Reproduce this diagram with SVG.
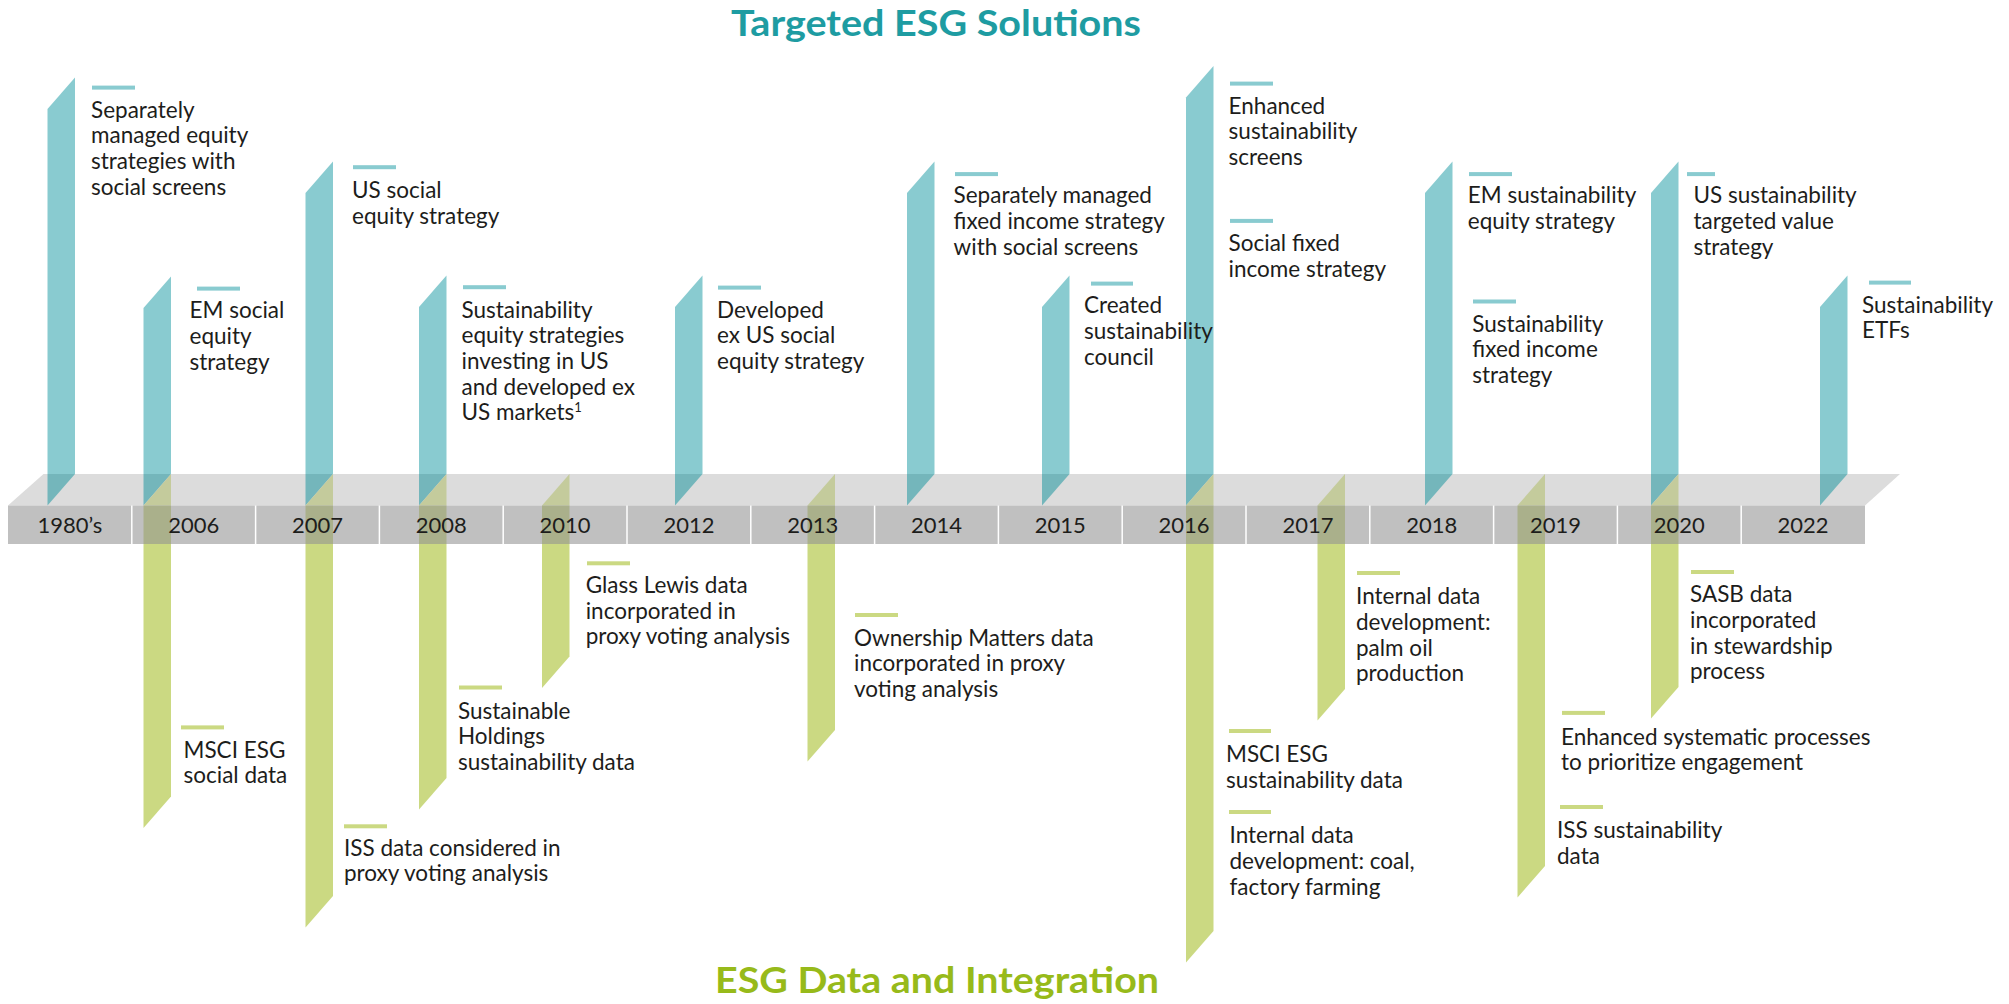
<svg xmlns="http://www.w3.org/2000/svg" width="2009" height="1004" viewBox="0 0 2009 1004">
<style>
.bg{fill:#ffffff}
.band-top{fill:#dcdcdc}
.band{fill:#c0c0c0}
.sep{stroke:#ffffff;stroke-width:1.5}
.teal{fill:#89cbd0}
.teal-d{fill:#74b6bb}
.green{fill:#cbd982}
.green-d1{fill:#c4cb9c}
.green-d2{fill:#aab08b}
.t{font-family:Lato,"Open Sans","Liberation Sans",sans-serif;font-size:22.5px;fill:#1d1d1b}
.yr{font-family:Lato,"Open Sans","Liberation Sans",sans-serif;font-size:22px;fill:#1d1d1b;text-anchor:middle}
.title{font-family:Lato,"Open Sans","Liberation Sans",sans-serif;font-size:36px;font-weight:700}
.ttl-teal{fill:#1e9ca2}
.ttl-green{fill:#97ba1a}
</style>
<rect class="bg" x="0" y="0" width="2009" height="1004"/>

<g id="titles">
<text class="title ttl-teal" x="731" y="36" textLength="410" lengthAdjust="spacingAndGlyphs">Targeted ESG Solutions</text>
<text class="title ttl-green" x="715" y="993" textLength="444" lengthAdjust="spacingAndGlyphs">ESG Data and Integration</text>
</g>

<g id="timeline">
<polygon class="band-top" points="8,505.5 43.5,474 1900,474 1865,505.5"/>
<rect class="band" x="8" y="505.5" width="1857" height="38.5"/>
<g class="sep">
<line x1="131.8" y1="505.5" x2="131.8" y2="544"/>
<line x1="255.6" y1="505.5" x2="255.6" y2="544"/>
<line x1="379.4" y1="505.5" x2="379.4" y2="544"/>
<line x1="503.2" y1="505.5" x2="503.2" y2="544"/>
<line x1="627" y1="505.5" x2="627" y2="544"/>
<line x1="750.8" y1="505.5" x2="750.8" y2="544"/>
<line x1="874.6" y1="505.5" x2="874.6" y2="544"/>
<line x1="998.4" y1="505.5" x2="998.4" y2="544"/>
<line x1="1122.2" y1="505.5" x2="1122.2" y2="544"/>
<line x1="1246" y1="505.5" x2="1246" y2="544"/>
<line x1="1369.8" y1="505.5" x2="1369.8" y2="544"/>
<line x1="1493.6" y1="505.5" x2="1493.6" y2="544"/>
<line x1="1617.4" y1="505.5" x2="1617.4" y2="544"/>
<line x1="1741.2" y1="505.5" x2="1741.2" y2="544"/>
</g>
</g>

<g id="connectors">
<!-- teal ribbons (Targeted ESG Solutions) -->
<polygon class="teal" points="47.5,109 75,77.5 75,474 47.5,474"/>
<polygon class="teal-d" points="47.5,474 75,474 47.5,505.5"/>
<polygon class="teal" points="143.5,308 171,276.5 171,474 143.5,474"/>
<polygon class="teal-d" points="143.5,474 171,474 143.5,505.5"/>
<polygon class="teal" points="305.5,193 333,161.5 333,474 305.5,474"/>
<polygon class="teal-d" points="305.5,474 333,474 305.5,505.5"/>
<polygon class="teal" points="419,307 446.5,275.5 446.5,474 419,474"/>
<polygon class="teal-d" points="419,474 446.5,474 419,505.5"/>
<polygon class="teal" points="675,307 702.5,275.5 702.5,474 675,474"/>
<polygon class="teal-d" points="675,474 702.5,474 675,505.5"/>
<polygon class="teal" points="907,193 934.5,161.5 934.5,474 907,474"/>
<polygon class="teal-d" points="907,474 934.5,474 907,505.5"/>
<polygon class="teal" points="1042,307 1069.5,275.5 1069.5,474 1042,474"/>
<polygon class="teal-d" points="1042,474 1069.5,474 1042,505.5"/>
<polygon class="teal" points="1186,97.5 1213.5,66 1213.5,474 1186,474"/>
<polygon class="teal-d" points="1186,474 1213.5,474 1186,505.5"/>
<polygon class="teal" points="1425,193 1452.5,161.5 1452.5,474 1425,474"/>
<polygon class="teal-d" points="1425,474 1452.5,474 1425,505.5"/>
<polygon class="teal" points="1651,193 1678.5,161.5 1678.5,474 1651,474"/>
<polygon class="teal-d" points="1651,474 1678.5,474 1651,505.5"/>
<polygon class="teal" points="1820,307 1847.5,275.5 1847.5,474 1820,474"/>
<polygon class="teal-d" points="1820,474 1847.5,474 1820,505.5"/>
<!-- green ribbons (ESG Data and Integration) -->
<polygon class="green-d1" points="171,474 171,505.5 143.5,505.5"/>
<rect class="green-d2" x="143.5" y="505.5" width="27.5" height="38.5"/>
<polygon class="green" points="143.5,544 171,544 171,796.5 143.5,828"/>
<polygon class="green-d1" points="333,474 333,505.5 305.5,505.5"/>
<rect class="green-d2" x="305.5" y="505.5" width="27.5" height="38.5"/>
<polygon class="green" points="305.5,544 333,544 333,896 305.5,927.5"/>
<polygon class="green-d1" points="446.5,474 446.5,505.5 419,505.5"/>
<rect class="green-d2" x="419" y="505.5" width="27.5" height="38.5"/>
<polygon class="green" points="419,544 446.5,544 446.5,778 419,809.5"/>
<polygon class="green-d1" points="569.5,474 569.5,505.5 542,505.5"/>
<rect class="green-d2" x="542" y="505.5" width="27.5" height="38.5"/>
<polygon class="green" points="542,544 569.5,544 569.5,656.5 542,688"/>
<polygon class="green-d1" points="835,474 835,505.5 807.5,505.5"/>
<rect class="green-d2" x="807.5" y="505.5" width="27.5" height="38.5"/>
<polygon class="green" points="807.5,544 835,544 835,730 807.5,761.5"/>
<polygon class="green-d1" points="1213.5,474 1213.5,505.5 1186,505.5"/>
<rect class="green-d2" x="1186" y="505.5" width="27.5" height="38.5"/>
<polygon class="green" points="1186,544 1213.5,544 1213.5,931 1186,962.5"/>
<polygon class="green-d1" points="1345,474 1345,505.5 1317.5,505.5"/>
<rect class="green-d2" x="1317.5" y="505.5" width="27.5" height="38.5"/>
<polygon class="green" points="1317.5,544 1345,544 1345,689 1317.5,720.5"/>
<polygon class="green-d1" points="1545,474 1545,505.5 1517.5,505.5"/>
<rect class="green-d2" x="1517.5" y="505.5" width="27.5" height="38.5"/>
<polygon class="green" points="1517.5,544 1545,544 1545,866 1517.5,897.5"/>
<polygon class="green-d1" points="1678.5,474 1678.5,505.5 1651,505.5"/>
<rect class="green-d2" x="1651" y="505.5" width="27.5" height="38.5"/>
<polygon class="green" points="1651,544 1678.5,544 1678.5,687 1651,718.5"/>
</g>

<g id="years">
<text class="yr" x="69.9" y="533">1980’s</text>
<text class="yr" x="193.7" y="533">2006</text>
<text class="yr" x="317.5" y="533">2007</text>
<text class="yr" x="441.3" y="533">2008</text>
<text class="yr" x="565.1" y="533">2010</text>
<text class="yr" x="688.9" y="533">2012</text>
<text class="yr" x="812.7" y="533">2013</text>
<text class="yr" x="936.5" y="533">2014</text>
<text class="yr" x="1060.3" y="533">2015</text>
<text class="yr" x="1184.1" y="533">2016</text>
<text class="yr" x="1307.9" y="533">2017</text>
<text class="yr" x="1431.7" y="533">2018</text>
<text class="yr" x="1555.5" y="533">2019</text>
<text class="yr" x="1679.3" y="533">2020</text>
<text class="yr" x="1803.1" y="533">2022</text>
</g>

<!-- Targeted ESG Solutions events -->
<g id="sol-1980s">
<rect class="teal" x="92" y="85.6" width="43" height="4"/>
<text class="t" x="91" y="117.7"><tspan x="91">Separately</tspan><tspan x="91" dy="25.6">managed equity</tspan><tspan x="91" dy="25.6">strategies with</tspan><tspan x="91" dy="25.6">social screens</tspan></text>
</g>
<g id="sol-2006">
<rect class="teal" x="197" y="286.6" width="43" height="4"/>
<text class="t" x="189.5" y="318.4"><tspan x="189.5">EM social</tspan><tspan x="189.5" dy="25.6">equity</tspan><tspan x="189.5" dy="25.6">strategy</tspan></text>
</g>
<g id="sol-2007">
<rect class="teal" x="353" y="165.2" width="43" height="4"/>
<text class="t" x="352" y="198.3"><tspan x="352">US social</tspan><tspan x="352" dy="25.6">equity strategy</tspan></text>
</g>
<g id="sol-2008">
<rect class="teal" x="463" y="285.2" width="43" height="4"/>
<text class="t" x="461.5" y="317.7"><tspan x="461.5">Sustainability</tspan><tspan x="461.5" dy="25.6">equity strategies</tspan><tspan x="461.5" dy="25.6">investing in US</tspan><tspan x="461.5" dy="25.6">and developed ex</tspan><tspan x="461.5" dy="25.6">US markets</tspan><tspan dy="-8" font-size="13">1</tspan></text>
</g>
<g id="sol-2012">
<rect class="teal" x="718" y="285.6" width="43" height="4"/>
<text class="t" x="717" y="317.7"><tspan x="717">Developed</tspan><tspan x="717" dy="25.6">ex US social</tspan><tspan x="717" dy="25.6">equity strategy</tspan></text>
</g>
<g id="sol-2014">
<rect class="teal" x="955" y="172.1" width="43" height="4"/>
<text class="t" x="953.6" y="203.3"><tspan x="953.6">Separately managed</tspan><tspan x="953.6" dy="25.6">fixed income strategy</tspan><tspan x="953.6" dy="25.6">with social screens</tspan></text>
</g>
<g id="sol-2015">
<rect class="teal" x="1091" y="281.6" width="42" height="4"/>
<text class="t" x="1084" y="313.4"><tspan x="1084">Created</tspan><tspan x="1084" dy="25.6">sustainability</tspan><tspan x="1084" dy="25.6">council</tspan></text>
</g>
<g id="sol-2016">
<rect class="teal" x="1230" y="81.6" width="43" height="4"/>
<text class="t" x="1228.6" y="113.8"><tspan x="1228.6">Enhanced</tspan><tspan x="1228.6" dy="25.6">sustainability</tspan><tspan x="1228.6" dy="25.6">screens</tspan></text>
<rect class="teal" x="1230" y="218.9" width="43" height="4"/>
<text class="t" x="1228.6" y="251.1"><tspan x="1228.6">Social fixed</tspan><tspan x="1228.6" dy="25.6">income strategy</tspan></text>
</g>
<g id="sol-2018">
<rect class="teal" x="1469" y="172.1" width="43" height="4"/>
<text class="t" x="1467.8" y="203.3"><tspan x="1467.8">EM sustainability</tspan><tspan x="1467.8" dy="25.6">equity strategy</tspan></text>
<rect class="teal" x="1473" y="299.5" width="43" height="4"/>
<text class="t" x="1472.3" y="331.7"><tspan x="1472.3">Sustainability</tspan><tspan x="1472.3" dy="25.6">fixed income</tspan><tspan x="1472.3" dy="25.6">strategy</tspan></text>
</g>
<g id="sol-2020">
<rect class="teal" x="1687" y="172.1" width="28" height="4"/>
<text class="t" x="1693.4" y="203.3"><tspan x="1693.4">US sustainability</tspan><tspan x="1693.4" dy="25.6">targeted value</tspan><tspan x="1693.4" dy="25.6">strategy</tspan></text>
</g>
<g id="sol-2022">
<rect class="teal" x="1869" y="280.6" width="42" height="4"/>
<text class="t" x="1862" y="312.8"><tspan x="1862">Sustainability</tspan><tspan x="1862" dy="25.6">ETFs</tspan></text>
</g>

<!-- ESG Data and Integration events -->
<g id="data-2006">
<rect class="green" x="181" y="725.4" width="43" height="4"/>
<text class="t" x="183.5" y="757.7"><tspan x="183.5">MSCI ESG</tspan><tspan x="183.5" dy="25.6">social data</tspan></text>
</g>
<g id="data-2007">
<rect class="green" x="344" y="824.3" width="43" height="4"/>
<text class="t" x="344" y="855.6"><tspan x="344">ISS data considered in</tspan><tspan x="344" dy="25.6">proxy voting analysis</tspan></text>
</g>
<g id="data-2008">
<rect class="green" x="459" y="685.5" width="43" height="4"/>
<text class="t" x="458" y="718.5"><tspan x="458">Sustainable</tspan><tspan x="458" dy="25.6">Holdings</tspan><tspan x="458" dy="25.6">sustainability data</tspan></text>
</g>
<g id="data-2010">
<rect class="green" x="587" y="561.3" width="43" height="4"/>
<text class="t" x="585.7" y="592.9"><tspan x="585.7">Glass Lewis data</tspan><tspan x="585.7" dy="25.6">incorporated in</tspan><tspan x="585.7" dy="25.6">proxy voting analysis</tspan></text>
</g>
<g id="data-2013">
<rect class="green" x="855" y="613" width="43" height="4"/>
<text class="t" x="854" y="645.6"><tspan x="854">Ownership Matters data</tspan><tspan x="854" dy="25.6">incorporated in proxy</tspan><tspan x="854" dy="25.6">voting analysis</tspan></text>
</g>
<g id="data-2016">
<rect class="green" x="1229" y="729" width="42" height="4"/>
<text class="t" x="1226" y="761.9"><tspan x="1226">MSCI ESG</tspan><tspan x="1226" dy="25.6">sustainability data</tspan></text>
<rect class="green" x="1229" y="810" width="42" height="4"/>
<text class="t" x="1229.5" y="843.4"><tspan x="1229.5">Internal data</tspan><tspan x="1229.5" dy="25.6">development: coal,</tspan><tspan x="1229.5" dy="25.6">factory farming</tspan></text>
</g>
<g id="data-2017">
<rect class="green" x="1357" y="571" width="43" height="4"/>
<text class="t" x="1356" y="604.3"><tspan x="1356">Internal data</tspan><tspan x="1356" dy="25.6">development:</tspan><tspan x="1356" dy="25.6">palm oil</tspan><tspan x="1356" dy="25.6">production</tspan></text>
</g>
<g id="data-2019">
<rect class="green" x="1562" y="710.9" width="43" height="4"/>
<text class="t" x="1561" y="744.5"><tspan x="1561">Enhanced systematic processes</tspan><tspan x="1561" dy="25.6">to prioritize engagement</tspan></text>
<rect class="green" x="1560" y="805" width="43" height="4"/>
<text class="t" x="1557" y="838.2"><tspan x="1557">ISS sustainability</tspan><tspan x="1557" dy="25.6">data</tspan></text>
</g>
<g id="data-2020">
<rect class="green" x="1691" y="570" width="43" height="4"/>
<text class="t" x="1690" y="602.3"><tspan x="1690">SASB data</tspan><tspan x="1690" dy="25.6">incorporated</tspan><tspan x="1690" dy="25.6">in stewardship</tspan><tspan x="1690" dy="25.6">process</tspan></text>
</g>
</svg>
